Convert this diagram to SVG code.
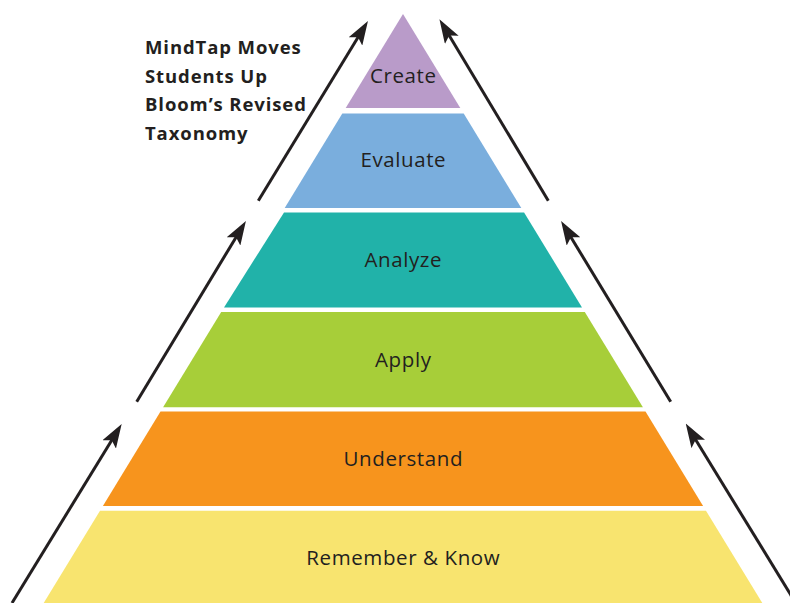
<svg xmlns="http://www.w3.org/2000/svg" width="790" height="603" viewBox="0 0 790 603">
  <style>
    .lvl text { font-family: "Open Sans", "Liberation Sans", sans-serif; font-size: 20.5px; letter-spacing: 0.6px; fill: #231F20; text-anchor: middle; }
    .head { font-family: "Open Sans", "Liberation Sans", sans-serif; font-size: 18.5px; letter-spacing: 0.9px; font-weight: bold; fill: #231F20; }
    .arrow { stroke: #231F20; stroke-width: 3; fill: none; marker-end: url(#head); }
  </style>
  <defs>
    <marker id="head" viewBox="0 0 24 16" refX="12" refY="8" markerWidth="24" markerHeight="16" markerUnits="userSpaceOnUse" orient="auto">
      <path d="M24,8 L0,0 L5,8 L0,16 Z" fill="#231F20"/>
    </marker>
  </defs>
  <rect width="790" height="603" fill="#FFFFFF"/>

  <!-- Pyramid levels, bottom to top -->
  <g id="remember" class="lvl">
    <polygon points="100,510.7 706,510.7 762.3,603 43.7,603" fill="#F8E46F"/>
    <text x="403.3" y="565">Remember &amp; Know</text>
  </g>
  <g id="understand" class="lvl">
    <polygon points="160.5,411.5 645.5,411.5 703.1,506 102.9,506" fill="#F7941D"/>
    <text x="403.3" y="466">Understand</text>
  </g>
  <g id="apply" class="lvl">
    <polygon points="221.2,312 584.8,312 642.9,407.3 163.1,407.3" fill="#A7CE39"/>
    <text x="403.3" y="367">Apply</text>
  </g>
  <g id="analyze" class="lvl">
    <polygon points="284,212.5 524.1,212.5 582,307.5 224,307.5" fill="#21B2A9"/>
    <text x="403.3" y="267">Analyze</text>
  </g>
  <g id="evaluate" class="lvl">
    <polygon points="342.3,113.5 463.7,113.5 521.3,208 284.7,208" fill="#7AAEDD"/>
    <text x="403.3" y="167">Evaluate</text>
  </g>
  <g id="create" class="lvl">
    <polygon points="403,14 460.3,108 345.7,108" fill="#B99BC9"/>
    <text x="403.3" y="83">Create</text>
  </g>

  <!-- Heading -->
  <g id="title">
    <text class="head" x="145" y="54">MindTap Moves</text>
    <text class="head" x="145" y="82.5">Students Up</text>
    <text class="head" x="145" y="111">Bloom’s Revised</text>
    <text class="head" x="145" y="139.5">Taxonomy</text>
  </g>

  <!-- Upward arrows along both sides -->
  <g id="connectors">
    <line class="arrow" x1="12" y1="603" x2="115.4" y2="434.2"/>
    <line class="arrow" x1="136.7" y1="401.7" x2="239.7" y2="231.2"/>
    <line class="arrow" x1="258.3" y1="200.7" x2="361.7" y2="31.2"/>
    <line class="arrow" x1="795.7" y1="603" x2="692" y2="433.7"/>
    <line class="arrow" x1="670.7" y1="401.7" x2="567.3" y2="231.2"/>
    <line class="arrow" x1="548.3" y1="200.7" x2="445.6" y2="29.5"/>
  </g>
</svg>
